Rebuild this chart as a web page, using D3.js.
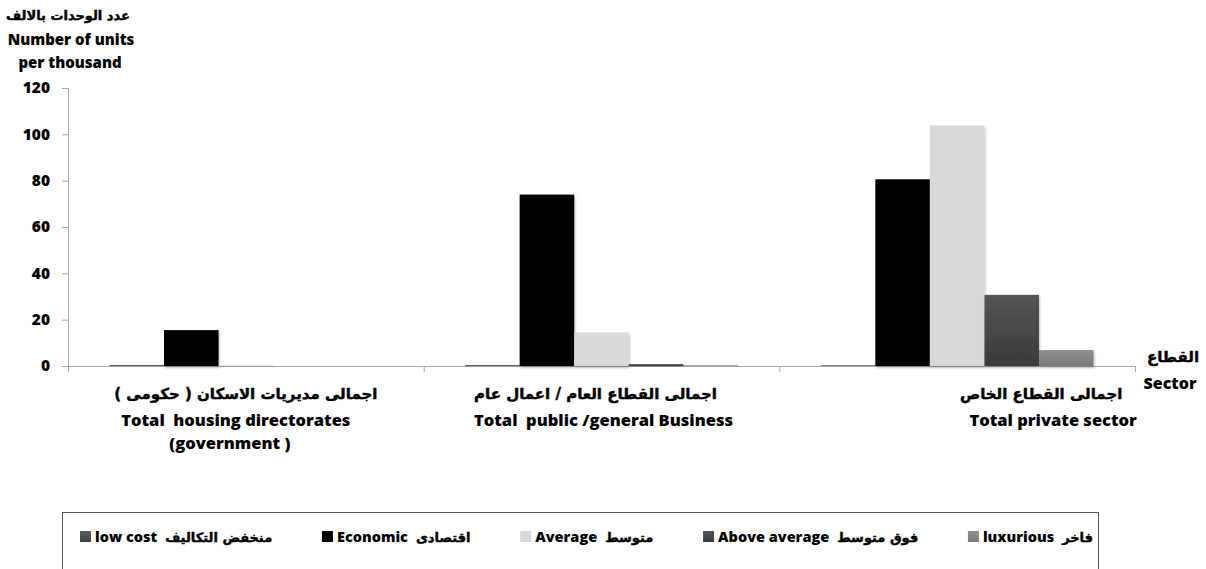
<!DOCTYPE html>
<html>
<head>
<meta charset="utf-8">
<script src="https://cdn.jsdelivr.net/npm/d3@7"></script>
<style>
  body { margin: 0; background: #fff; }
  svg { display: block; font-family: "Open Sans", "DejaVu Sans", sans-serif; font-weight: 800; }
  text { white-space: pre; }
  .ar { font-family: "DejaVu Sans", sans-serif; stroke: #000; stroke-width: 0.45px; }
</style>
</head>
<body>
<svg id="chart" width="1206" height="569"></svg>
<script>
// data
const sectors = ["gov", "public", "private"];
const sectorLabels = [
  ["اجمالى مديريات الاسكان ( حكومى )", "Total  housing directorates", "(government )"],
  ["اجمالى القطاع العام / اعمال عام", "Total  public /general Business"],
  ["اجمالى القطاع الخاص", "Total private sector"]
];
const labelShift = [[0, -10, -16], [-6, 2], [84, 96]];
const seriesKeys = ["lowCost", "economic", "average", "aboveAverage", "luxurious"];
const seriesEn = ["low cost", "Economic", "Average", "Above average", "luxurious"];
const seriesAr = ["منخفض التكاليف", "اقتصادى", "متوسط", "فوق متوسط", "فاخر"];
const lowCost = [0.4, 0.4, 0.3];
const economic = [15.5, 74, 80.6];
const average = [0.3, 14.5, 103.8];
const aboveAverage = [0, 0.8, 30.7];
const luxurious = [0, 0.3, 6.9];
const yTicks = [0, 20, 40, 60, 80, 100, 120];

const values = { lowCost, economic, average, aboveAverage, luxurious };
const fills = {
  lowCost: "url(#gLow)", economic: "#000", average: "#d9d9d9",
  aboveAverage: "url(#gAbove)", luxurious: "url(#gLux)"
};

const svg = d3.select("#chart");
const defs = svg.append("defs");
const grad = (id, top, bottom) => {
  const g = defs.append("linearGradient").attr("id", id)
    .attr("x1", 0).attr("y1", 0).attr("x2", 0).attr("y2", 1);
  g.append("stop").attr("offset", "0%").attr("stop-color", top);
  g.append("stop").attr("offset", "100%").attr("stop-color", bottom);
};
grad("gLow", "#5e5e5e", "#404040");
grad("gAbove", "#555555", "#3a3a3a");
grad("gLux", "#909090", "#7a7a7a");
const sh = defs.append("filter").attr("id", "shadow")
  .attr("x", "-10%").attr("y", "-10%").attr("width", "130%").attr("height", "130%");
sh.append("feDropShadow").attr("dx", 1).attr("dy", 2).attr("stdDeviation", 1.2)
  .attr("flood-color", "#000").attr("flood-opacity", 0.25);

const x0 = 68, x1 = 1135, yTop = 88, yBase = 366;
const x = d3.scaleBand().domain(sectors).range([x0, x1]).padding(0);
const xs = d3.scaleBand().domain(seriesKeys).range([0, x.bandwidth()])
  .paddingInner(0).paddingOuter(0.76);
const y = d3.scaleLinear().domain([0, 120]).range([yBase, yTop]);

// y axis
const yAxis = svg.append("g").attr("transform", `translate(${x0},0)`)
  .call(d3.axisLeft(y).tickValues(yTicks).tickSize(6).tickPadding(12));
yAxis.select(".domain").attr("stroke", "#a6a6a6");
yAxis.selectAll(".tick line").attr("stroke", "#a6a6a6");
yAxis.selectAll(".tick text").attr("font-size", 15.5).attr("font-weight", 800)
  .attr("font-family", "'Open Sans', sans-serif").attr("fill", "#000");

// x axis (baseline with category ticks)
const xAxis = svg.append("g").attr("transform", `translate(0,${yBase})`)
  .call(d3.axisBottom(x).tickValues([]).tickSizeOuter(0));
xAxis.select(".domain").attr("stroke", "#a6a6a6");
const bounds = sectors.map(s => x(s)).concat([x1]);
xAxis.selectAll("line.cat").data(bounds).enter().append("line")
  .attr("class", "cat")
  .attr("x1", d => d + 0.5).attr("x2", d => d + 0.5)
  .attr("y1", 0).attr("y2", 6).attr("stroke", "#a6a6a6");

// bars
const groups = svg.append("g").selectAll("g")
  .data(sectors).enter().append("g")
  .attr("transform", s => `translate(${x(s)},0)`);
groups.selectAll("rect")
  .data((s, i) => seriesKeys.map(k => ({ key: k, v: values[k][i] })))
  .enter().append("rect")
  .attr("x", d => xs(d.key))
  .attr("width", xs.bandwidth())
  .attr("y", d => y(d.v))
  .attr("height", d => yBase - y(d.v))
  .attr("fill", d => fills[d.key])
  .attr("filter", "url(#shadow)");

// category labels
sectors.forEach((s, i) => {
  const cx = x(s) + x.bandwidth() / 2;
  const t = svg.append("text").attr("text-anchor", "middle").attr("fill", "#000");
  sectorLabels[i].forEach((line, j) => {
    t.append("tspan").attr("x", cx + labelShift[i][j]).attr("y", 399 + j * 26.5 - (j > 1 ? 3.5 : 0))
      .attr("class", j === 0 ? "ar" : null)
      .attr("font-size", j === 0 ? 15 : 16.5)
      .text(line);
  });
});

// axis titles
const yTitle = svg.append("text").attr("text-anchor", "middle").attr("font-size", 15);
yTitle.append("tspan").attr("x", 68).attr("y", 20)
  .attr("class", "ar").attr("font-size", 13).text("عدد الوحدات بالالف");
yTitle.append("tspan").attr("x", 71).attr("y", 45).text("Number of units");
yTitle.append("tspan").attr("x", 70).attr("y", 68).text("per thousand");

const xTitle = svg.append("text").attr("text-anchor", "middle").attr("font-size", 16);
xTitle.append("tspan").attr("x", 1173).attr("y", 362)
  .attr("class", "ar").attr("font-size", 15).text("القطاع");
xTitle.append("tspan").attr("x", 1170).attr("y", 389).text("Sector");

// legend: box plus one entry per series, spread between the box edges
svg.append("rect").attr("x", 62.5).attr("y", 512.5).attr("width", 1036).attr("height", 80)
  .attr("fill", "none").attr("stroke", "#595959");
const legend = svg.append("g").selectAll("g")
  .data(seriesKeys).enter().append("g");
legend.append("rect").attr("x", 0).attr("y", -11).attr("width", 11).attr("height", 11)
  .attr("fill", k => fills[k]);
const widths = [];
legend.each(function (k, i) {
  const g = d3.select(this);
  const en = g.append("text").attr("x", 15).attr("y", 0).attr("font-size", 14.5).text(seriesEn[i]);
  const enW = en.node().getComputedTextLength();
  const ar = g.append("text").attr("x", 15 + enW + 8).attr("y", 0).attr("font-size", 13)
    .attr("class", "ar").text(seriesAr[i]);
  widths.push(15 + enW + 8 + ar.node().getComputedTextLength());
});
const lgStart = 80, lgEnd = 1093;
const gap = (lgEnd - lgStart - d3.sum(widths)) / (widths.length - 1);
const lgX = widths.map((w, i) => lgStart + d3.sum(widths.slice(0, i)) + gap * i);
legend.attr("transform", (k, i) => `translate(${lgX[i]},542)`);
</script>
</body>
</html>
